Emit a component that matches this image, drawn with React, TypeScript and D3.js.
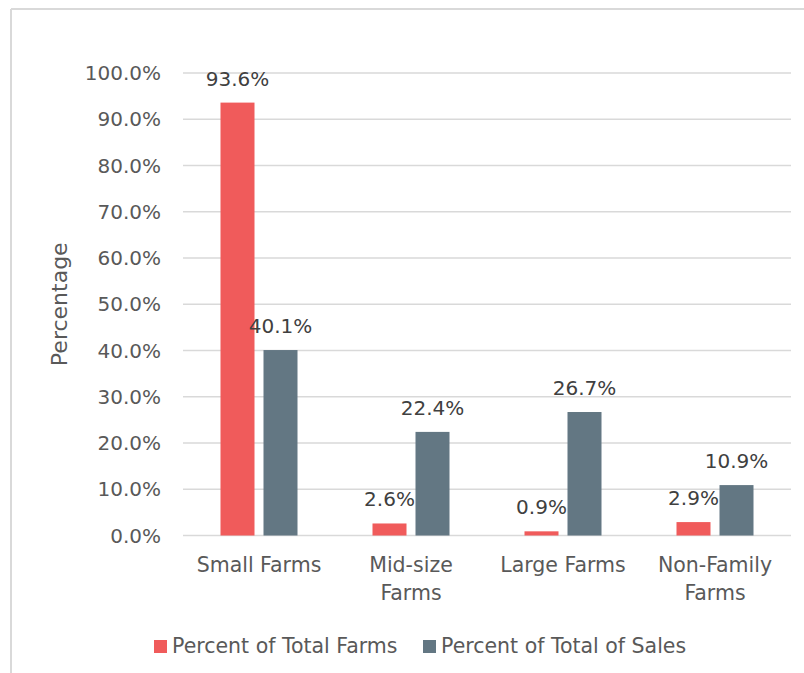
import React from 'react';
import * as d3 from 'd3';

const categories = [['Small Farms'], ['Mid-size', 'Farms'], ['Large Farms'], ['Non-Family', 'Farms']];
const seriesNames = ['Percent of Total Farms', 'Percent of Total of Sales'];
const totalFarms = [0.936, 0.026, 0.009, 0.029];
const totalSales = [0.401, 0.224, 0.267, 0.109];
const yTicks = [0, 0.1, 0.2, 0.3, 0.4, 0.5, 0.6, 0.7, 0.8, 0.9, 1.0];

const COLORS = ['#f05b5b', '#637783'];
const TEXT = '#595959';
const FONT = '"DejaVu Sans", sans-serif';

export default function App() {
  const W = 804, H = 673;
  const left = 183, right = 791, top = 73, bottom = 535.5;
  const keys = categories.map(c => c.join(' '));
  const values = [totalFarms, totalSales];

  const x0 = d3.scaleBand<string>().domain(keys).range([left, right]);
  const inner = 77;
  const off = (x0.bandwidth() - inner) / 2;
  const x1 = d3.scaleBand<string>().domain(seriesNames).range([off, off + inner]).paddingInner(9 / 43);
  const y = d3.scaleLinear().domain([0, 1]).range([bottom, top]);
  const fmt = d3.format('.1%');

  return (
    <svg width={W} height={H} style={{ position: 'absolute', left: 0, top: 0, background: '#fff' }} fontFamily={FONT}>
      {/* frame */}
      <line x1={11} x2={W} y1={9} y2={9} stroke="#d9d9d9" strokeWidth={2} />
      <line x1={11} x2={11} y1={9} y2={H} stroke="#d9d9d9" strokeWidth={2} />

      {yTicks.map(t => (
        <g key={t}>
          <line x1={left} x2={right} y1={y(t)} y2={y(t)} stroke="#d9d9d9" strokeWidth={1.5} />
          <text x={161} y={y(t)} dy="0.36em" textAnchor="end" fontSize={20} fill={TEXT}>{fmt(t)}</text>
        </g>
      ))}

      <text transform={`translate(67,${(top + bottom) / 2}) rotate(-90)`} textAnchor="middle" fontSize={22} fill={TEXT}>Percentage</text>

      {keys.map((k, i) => (
        <g key={k} transform={`translate(${x0(k)},0)`}>
          {seriesNames.map((s, j) => {
            const v = values[j][i];
            const bx = x1(s) || 0;
            return (
              <g key={s}>
                <rect x={bx} y={y(v)} width={x1.bandwidth()} height={y(0) - y(v)} fill={COLORS[j]} />
                <text x={bx + x1.bandwidth() / 2} y={y(v) - 17} textAnchor="middle" fontSize={20} fill="#404040">{fmt(v)}</text>
              </g>
            );
          })}
          {categories[i].map((line, li) => (
            <text key={li} x={x0.bandwidth() / 2} y={572 + li * 28} textAnchor="middle" fontSize={20.5} fill={TEXT}>{line}</text>
          ))}
        </g>
      ))}

      {/* legend */}
      <rect x={154} y={640} width={13} height={13} fill={COLORS[0]} />
      <text x={172} y={653} fontSize={20.5} fill={TEXT}>{seriesNames[0]}</text>
      <rect x={423} y={640} width={13} height={13} fill={COLORS[1]} />
      <text x={441} y={653} fontSize={20.5} fill={TEXT}>{seriesNames[1]}</text>
    </svg>
  );
}
